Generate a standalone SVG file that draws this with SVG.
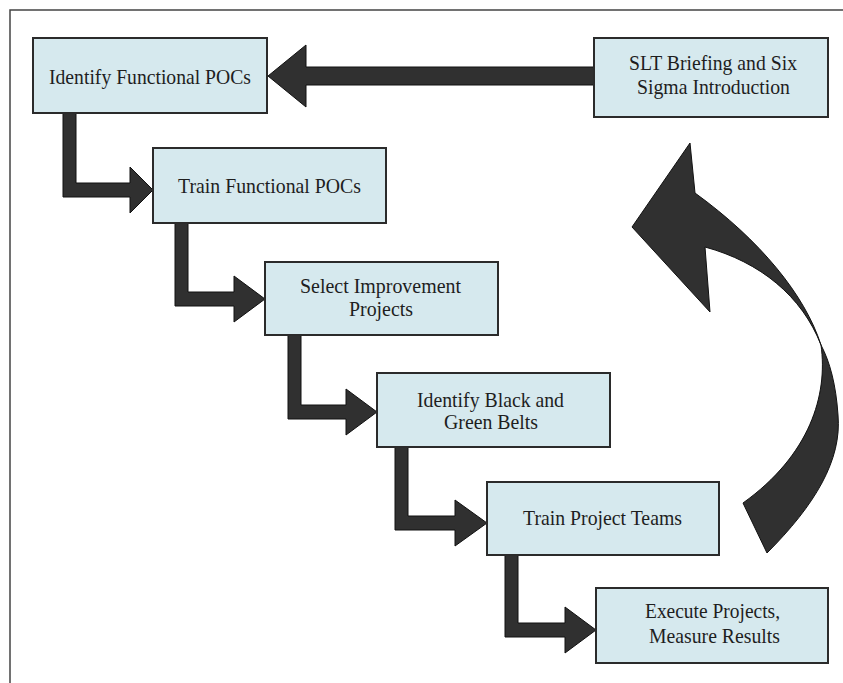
<svg xmlns="http://www.w3.org/2000/svg" width="843" height="683" viewBox="0 0 843 683">
<style>
  .box { fill: #d6e9ee; stroke: #2b2b2b; stroke-width: 2; }
  .lbl { font-family: "Liberation Serif", "Times New Roman", serif; font-size: 21px; fill: #1e1e1e; text-anchor: middle; }
  .arr { fill: #303030; stroke: #111; stroke-width: 1; stroke-linejoin: miter; }
  .frame { fill: none; stroke: #444; stroke-width: 1.5; }
</style>
<rect x="0" y="0" width="843" height="683" fill="#ffffff"/>
<path class="frame" d="M10,683 L10,10 L843,10"/>

<g id="connectors">
  <polygon class="arr" points="594,67 306,67 306,45 268,76 306,107 306,85 594,85"/>
  <polygon class="arr" points="63,113 76,113 76,183 130,183 130,167 153,190 130,213 130,197 63,197"/>
  <polygon class="arr" points="175,223 188,223 188,292 234,292 234,276 265,299 234,322 234,306 175,306"/>
  <polygon class="arr" points="288,335 301,335 301,405 346,405 346,389 377,412 346,435 346,419 288,419"/>
  <polygon class="arr" points="395,447 408,447 408,516 455,516 455,500 487,523 455,546 455,530 395,530"/>
  <polygon class="arr" points="505,555 518,555 518,623 565,623 565,607 596,630 565,653 565,637 505,637"/>
  <path class="arr" d="M690,143 L632,227 L710,312 L705,247 C760,262 802,296 821,345 C828,395 810,455 743,503 L767,553 C815,505 842,460 838,415 C836,385 830,362 821,345 C805,295 760,240 695,193 Z"/>
</g>

<g id="n_slt">
  <rect class="box" x="594" y="38" width="234" height="79"/>
  <text class="lbl" x="713" y="70" textLength="168" lengthAdjust="spacingAndGlyphs">SLT Briefing and Six</text>
  <text class="lbl" x="713.5" y="94" textLength="153" lengthAdjust="spacingAndGlyphs">Sigma Introduction</text>
</g>
<g id="n_identify_pocs">
  <rect class="box" x="33" y="38" width="234" height="75"/>
  <text class="lbl" x="150" y="84" textLength="202" lengthAdjust="spacingAndGlyphs">Identify Functional POCs</text>
</g>
<g id="n_train_pocs">
  <rect class="box" x="153" y="148" width="233" height="75"/>
  <text class="lbl" x="269.5" y="193" textLength="183" lengthAdjust="spacingAndGlyphs">Train Functional POCs</text>
</g>
<g id="n_select">
  <rect class="box" x="265" y="262" width="233" height="73"/>
  <text class="lbl" x="380.5" y="293" textLength="161" lengthAdjust="spacingAndGlyphs">Select Improvement</text>
  <text class="lbl" x="381" y="315.5" textLength="64" lengthAdjust="spacingAndGlyphs">Projects</text>
</g>
<g id="n_belts">
  <rect class="box" x="377" y="373" width="233" height="74"/>
  <text class="lbl" x="490.5" y="407" textLength="147" lengthAdjust="spacingAndGlyphs">Identify Black and</text>
  <text class="lbl" x="491" y="429" textLength="94" lengthAdjust="spacingAndGlyphs">Green Belts</text>
</g>
<g id="n_train_teams">
  <rect class="box" x="487" y="482" width="232" height="73"/>
  <text class="lbl" x="602.5" y="525" textLength="159" lengthAdjust="spacingAndGlyphs">Train Project Teams</text>
</g>
<g id="n_execute">
  <rect class="box" x="596" y="588" width="232" height="75"/>
  <text class="lbl" x="712.5" y="618" textLength="135" lengthAdjust="spacingAndGlyphs">Execute Projects,</text>
  <text class="lbl" x="714.5" y="643" textLength="131" lengthAdjust="spacingAndGlyphs">Measure Results</text>
</g>
</svg>
